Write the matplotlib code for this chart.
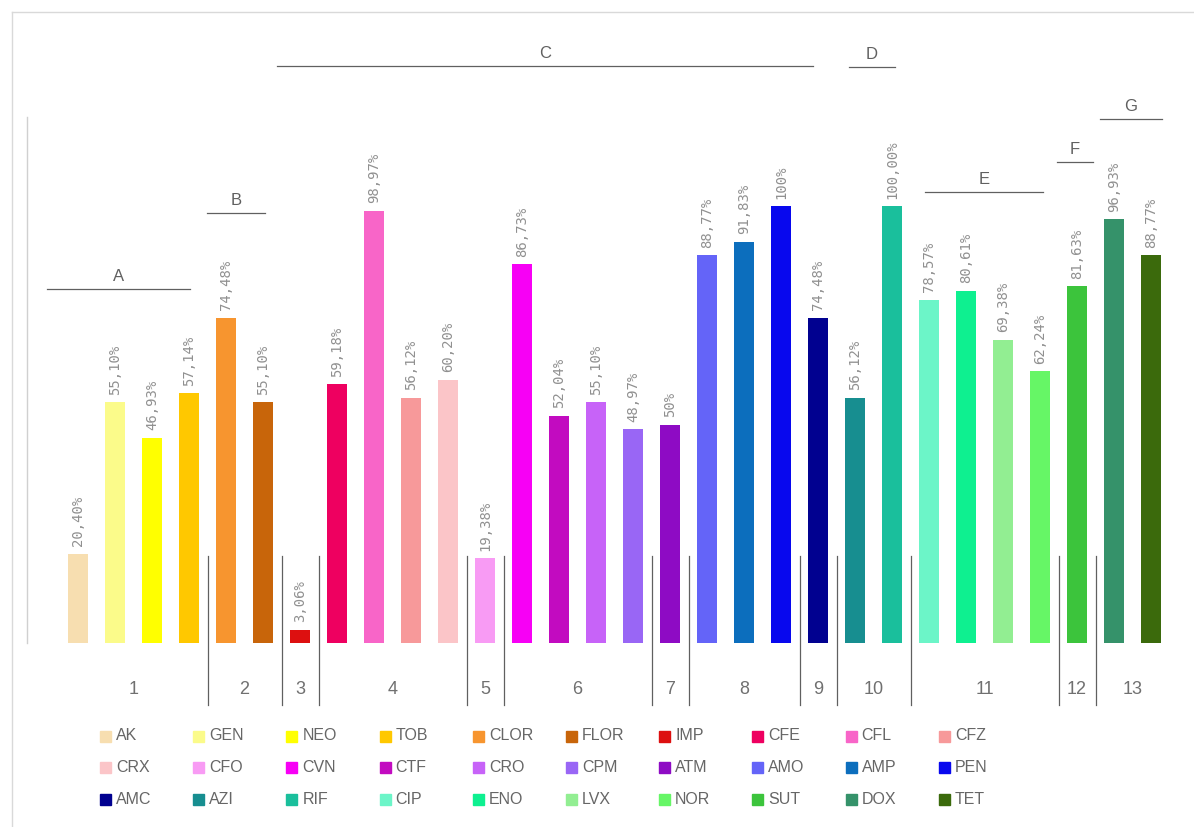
import matplotlib
matplotlib.use("Agg")
import matplotlib.pyplot as plt
from matplotlib.patches import Rectangle

# ---------------- data ----------------
drugs = ["AK", "GEN", "NEO", "TOB", "CLOR", "FLOR", "IMP", "CFE", "CFL", "CFZ",
         "CRX", "CFO", "CVN", "CTF", "CRO", "CPM", "ATM", "AMO", "AMP", "PEN",
         "AMC", "AZI", "RIF", "CIP", "ENO", "LVX", "NOR", "SUT", "DOX", "TET"]
values = [20.40, 55.10, 46.93, 57.14, 74.48, 55.10, 3.06, 59.18, 98.97, 56.12,
          60.20, 19.38, 86.73, 52.04, 55.10, 48.97, 50.00, 88.77, 91.83, 100.00,
          74.48, 56.12, 100.00, 78.57, 80.61, 69.38, 62.24, 81.63, 96.93, 88.77]
value_labels = ["20,40%", "55,10%", "46,93%", "57,14%", "74,48%", "55,10%", "3,06%",
                "59,18%", "98,97%", "56,12%", "60,20%", "19,38%", "86,73%", "52,04%",
                "55,10%", "48,97%", "50%", "88,77%", "91,83%", "100%", "74,48%",
                "56,12%", "100,00%", "78,57%", "80,61%", "69,38%", "62,24%", "81,63%",
                "96,93%", "88,77%"]
colors = ["#f7deb0", "#fbfb8a", "#ffff00", "#ffc800", "#f7952f", "#c8650a", "#dd1010",
          "#ee0060", "#f865c8", "#f7999a", "#fbc5c8", "#f89bf4", "#f700f5", "#c20bc0",
          "#c763f8", "#9966f5", "#8e0bc4", "#6464f8", "#0c6ebd", "#0808ee", "#010190",
          "#178e90", "#1abf9c", "#6cf5c8", "#0ef090", "#92ee92", "#66f666", "#3cc43c",
          "#35926a", "#3b6a0c"]
# number of drugs in each numbered group (1..13)
group_sizes = [4, 2, 1, 4, 1, 4, 1, 3, 1, 2, 4, 1, 2]
group_names = ["1", "2", "3", "4", "5", "6", "7", "8", "9", "10", "11", "12", "13"]
# letter brackets: (letter, x-start, x-end, y) in bar-index / percent units
brackets = [("A", -0.84, 3.03, 81.0), ("B", 3.49, 5.05, 98.4),
            ("C", 5.38, 19.86, 132.0), ("D", 20.84, 22.08, 131.8),
            ("E", 22.89, 26.08, 103.2), ("F", 26.46, 27.43, 110.1),
            ("G", 27.62, 29.30, 119.9)]

# ---------------- figure ----------------
W, H = 1194, 827
fig = plt.figure(figsize=(W / 100, H / 100), dpi=100)
fig.patch.set_facecolor("white")

# pixel mapping: bar 0 centre at x=78 px, spacing 37 px; y=0 at 643 px, 100% = 437 px
x0, dx = 78, 37.0
y0, dy = 643, 4.37
ax = fig.add_axes([0, 0, 1, 1])
ax.set_xlim(-x0 / dx, (W - x0) / dx)
ax.set_ylim(-(H - y0) / dy, y0 / dy)
ax.axis("off")

xs = list(range(len(drugs)))
ax.bar(xs, values, width=0.54, color=colors, zorder=2)

for x, v, lab in zip(xs, values, value_labels):
    ax.text(x, v + 1.7, lab, rotation=90, ha="center", va="bottom",
            fontsize=10, color="#909090", family="DejaVu Sans Mono")

# faint y axis line
ax.plot([-1.38, -1.38], [0, 120.4], color="#d0d0d0", lw=1)

# group separators and numbers
start = 0
for i, (n, name) in enumerate(zip(group_sizes, group_names)):
    centre = start + (n - 1) / 2
    ax.text(centre, -10.6, name, ha="center", va="center", fontsize=13,
            color="#707070", family="Liberation Sans")
    end = start + n
    if i < len(group_sizes) - 1:
        sx = end - 0.5
        ax.plot([sx, sx], [19.8, -14.3], color="#606060", lw=0.9)
    start = end

# letter brackets
for letter, xa, xb, yb in brackets:
    ax.plot([xa, xb], [yb, yb], color="#606060", lw=0.9)
    ax.text((xa + xb) / 2, yb + 2.9, letter, ha="center", va="center",
            fontsize=12, color="#606060", family="Liberation Sans")

# ---------------- overlay in pixel coords: frame + legend ----------------
ov = fig.add_axes([0, 0, 1, 1], facecolor="none")
ov.set_xlim(0, W)
ov.set_ylim(H, 0)
ov.axis("off")
ov.plot([12, 12], [12, H], color="#d9d9d9", lw=1)
ov.plot([12, W], [12, 12], color="#d9d9d9", lw=1)

ncol = 10
for k, (name, col) in enumerate(zip(drugs, colors)):
    r, c = divmod(k, ncol)
    px = 100 + c * 93.2
    py = 736 + r * 31.5
    ov.add_patch(Rectangle((px, py - 5.5), 11, 11, color=col))
    ov.text(px + 16, py, name, ha="left", va="center", fontsize=11.5,
            color="#666666", family="Liberation Sans")

fig.savefig("out.png", dpi=100)
